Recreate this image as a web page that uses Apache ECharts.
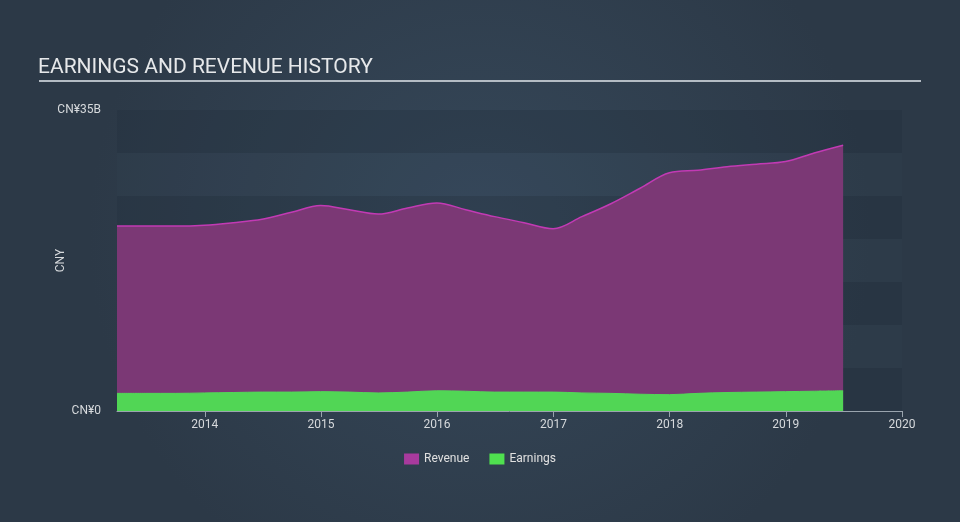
<!DOCTYPE html>
<html>
<head>
<meta charset="utf-8">
<script src="https://cdn.jsdelivr.net/npm/echarts@6/dist/echarts.min.js"></script>
<style>
html,body{margin:0;padding:0;background:#323f4f;}
#c{width:960px;height:522px;}
</style>
</head>
<body>
<div id="c"></div>
<script>
const dates = ['2013-03-31','2013-06-30','2013-09-30','2013-12-31',
'2014-03-31','2014-06-30','2014-09-30','2014-12-31',
'2015-03-31','2015-06-30','2015-09-30','2015-12-31',
'2016-03-31','2016-06-30','2016-09-30','2016-12-31',
'2017-03-31','2017-06-30','2017-09-30','2017-12-31',
'2018-03-31','2018-06-30','2018-09-30','2018-12-31',
'2019-03-31','2019-06-30'];
const revenue = [21.5,21.5,21.5,21.6,21.9,22.3,23.1,23.9,23.4,22.9,23.6,24.2,23.4,22.6,21.9,21.2,22.6,24.1,25.9,27.7,28.0,28.4,28.7,29.0,30.0,30.9];
const earnings = [2.05,2.05,2.05,2.1,2.15,2.2,2.2,2.25,2.2,2.1,2.2,2.35,2.3,2.2,2.2,2.2,2.1,2.05,1.95,1.9,2.05,2.15,2.2,2.25,2.3,2.35];
const yTickLabels = {0:'CN¥0', 35:'CN¥35B'};
const title = 'EARNINGS AND REVENUE HISTORY';

const chart = echarts.init(document.getElementById('c'), null, {renderer:'canvas'});
const toPairs = arr => arr.map((v,i)=>[dates[i], v]);
chart.setOption({
  backgroundColor: {
    type:'radial', x:0.5, y:0.45, r:0.75,
    colorStops:[{offset:0,color:'#36485a'},{offset:1,color:'#2c3947'}]
  },
  textStyle:{fontFamily:'Roboto'},
  title:{text:title, left:38, top:57, padding:0, textStyle:{color:'#e6e8ea', fontSize:21, fontWeight:'normal', fontFamily:'Roboto'}},
  graphic:[{type:'line', shape:{x1:39,y1:81,x2:921,y2:81}, style:{stroke:'#b4bcc4', lineWidth:2}}],
  legend:{
    bottom:52, left:'center', itemWidth:15, itemHeight:11, itemGap:20,
    textStyle:{color:'#e0e0e0', fontSize:12},
    data:[{name:'Revenue', icon:'rect'},{name:'Earnings', icon:'rect'}]
  },
  grid:{left:117, right:58, top:110, bottom:111},
  xAxis:{
    type:'time',
    min:'2013-03-31', max:'2020-01-01',
    minInterval:365*24*3600*1000,
    splitNumber:7,
    axisLine:{lineStyle:{color:'#9aa4ae', width:1}},
    axisTick:{show:true, length:6, lineStyle:{color:'#9aa4ae'}},
    axisLabel:{color:'#d6d9dc', fontSize:12, margin:8, showMaxLabel:true,
      formatter: v => String(new Date(v).getFullYear())},
    splitLine:{show:false}
  },
  yAxis:{
    type:'value', min:0, max:35, interval:5,
    name:'CNY', nameLocation:'middle', nameGap:50, nameRotate:90, nameMoveOverlap:false,
    nameTextStyle:{color:'#d6d9dc', fontSize:12},
    axisLine:{show:false}, axisTick:{show:false},
    axisLabel:{color:'#d6d9dc', fontSize:12, margin:16,
      formatter: v => yTickLabels[v] !== undefined ? yTickLabels[v] : ''},
    splitLine:{show:false},
    splitArea:{show:true, areaStyle:{color:['rgba(34,46,58,0.3)','rgba(60,78,96,0.1)']}}
  },
  series:[
    {name:'Revenue', type:'line', data:toPairs(revenue), smooth:0.35, symbol:'none',
     itemStyle:{color:'#a83a9d'},
     lineStyle:{color:'#c23ab4', width:1.5},
     areaStyle:{color:'#7b3875', opacity:1}, z:2},
    {name:'Earnings', type:'line', data:toPairs(earnings), smooth:0.35, symbol:'none',
     itemStyle:{color:'#4fe04f'},
     lineStyle:{color:'#52d858', width:1},
     areaStyle:{color:'#51d655', opacity:1}, z:3}
  ]
});
</script>
</body>
</html>
